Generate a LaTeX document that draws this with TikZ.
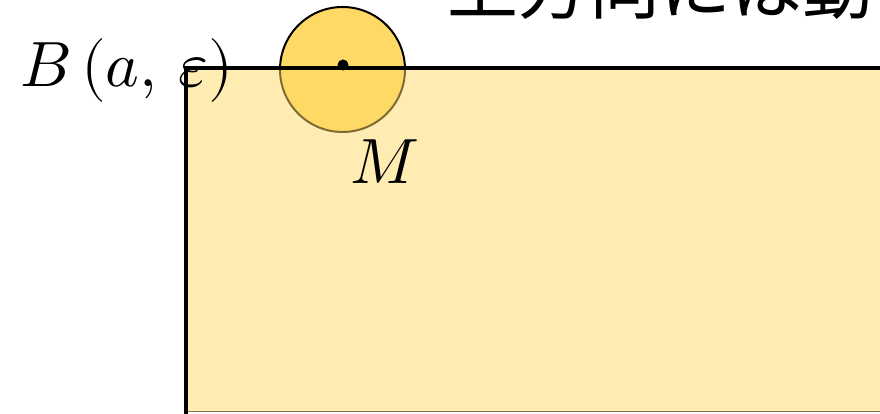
\documentclass[tikz,border=0pt]{standalone}
\usepackage{fontspec}
\usepackage{unicode-math}
\setmathfont{Latin Modern Math}
\newfontfamily\jpfont{Noto Sans CJK JP}
\definecolor{gold}{HTML}{FFD966}
\tikzset{
  axisline/.style={line width=4pt, line cap=butt},
  lbl/.style={inner sep=0pt, anchor=base west, font=\fontsize{64}{64}\selectfont},
}
\begin{document}
\begin{tikzpicture}[x=1pt,y=1pt]
\useasboundingbox (0,0) rectangle (880,414);
\clip (0,0) rectangle (880,414);
% ball
\node[circle, minimum size=125pt, inner sep=0pt, fill=gold, draw=black, line width=2pt] (ball) at (342.5,344.5) {};
% region M
\path[fill=gold, fill opacity=0.5, draw=black, draw opacity=0.5, line width=1pt] (187,2) rectangle (920,346);
% boundary
\coordinate (bl) at (186,-10);
\coordinate (tl) at (186,346);
\coordinate (tr) at (920,346);
\draw[axisline] (bl) -- (tl) -- (tr);
% centre point
\node[circle, fill=black, inner sep=0pt, minimum size=11pt] (a) at (343,349) {};
% labels
\node[lbl] (B) at (20,327) {$B\,(a,\,\varepsilon)$};
\node[lbl] (M) at (350,230) {$M$};
\node[inner sep=0pt, anchor=base west, font=\jpfont\fontsize{71}{71}\selectfont] (jp) at (447,400) {上方向には動};
\end{tikzpicture}
\end{document}
